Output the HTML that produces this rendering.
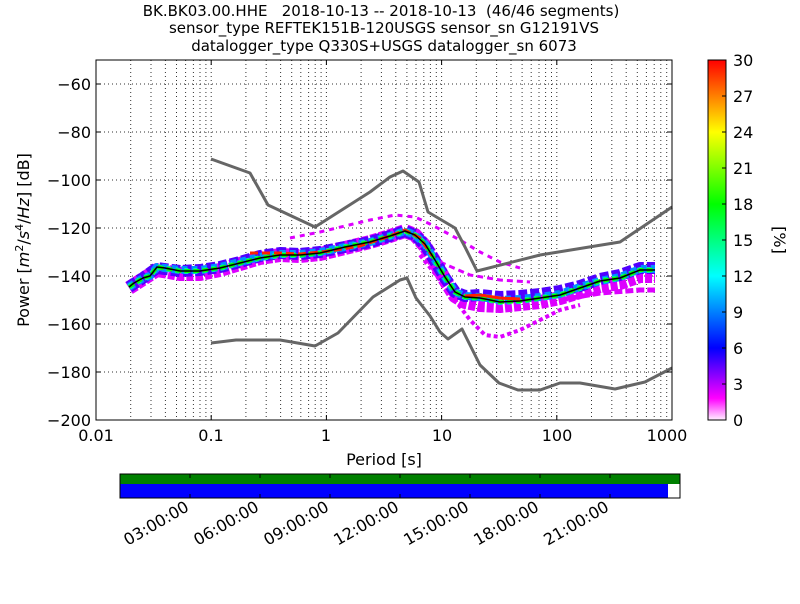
<!DOCTYPE html>
<html><head><meta charset="utf-8"><style>
body{margin:0;background:#fff;width:800px;height:600px;overflow:hidden;font-family:"DejaVu Sans","Liberation Sans",sans-serif}
text{white-space:pre}
</style></head><body>
<svg width="800" height="600" xmlns="http://www.w3.org/2000/svg" font-family="DejaVu Sans, Liberation Sans, sans-serif" xml:space="preserve">
<defs>
<linearGradient id="cb" x1="0" y1="1" x2="0" y2="0">
<stop offset="0" stop-color="#fff0ff"/><stop offset="0.06" stop-color="#ff00ff"/>
<stop offset="0.2" stop-color="#0000ff"/><stop offset="0.4" stop-color="#00ffff"/>
<stop offset="0.6" stop-color="#00ff00"/><stop offset="0.8" stop-color="#ffff00"/>
<stop offset="1" stop-color="#ff0000"/></linearGradient>
</defs>
<g font-size="15" text-anchor="middle" fill="#000">
<text x="381" y="16">BK.BK03.00.HHE   2018-10-13 -- 2018-10-13  (46/46 segments)</text>
<text x="384" y="33">sensor_type REFTEK151B-120USGS sensor_sn G12191VS</text>
<text x="384" y="51">datalogger_type Q330S+USGS datalogger_sn 6073</text>
</g>
<g stroke="#000" stroke-width="1" stroke-dasharray="1,3" opacity="0.8" fill="none">
<path d="M96 84H672M96 132H672M96 180H672M96 228H672M96 276H672M96 324H672M96 372H672"/>
<path d="M130.7 60V420M151 60V420M165.4 60V420M176.5 60V420M185.6 60V420M193.4 60V420M200 60V420M205.9 60V420M211.2 60V420
M245.9 60V420M266.2 60V420M280.6 60V420M291.7 60V420M300.8 60V420M308.6 60V420M315.2 60V420M321.1 60V420M326.4 60V420
M361.1 60V420M381.4 60V420M395.8 60V420M406.9 60V420M416 60V420M423.8 60V420M430.4 60V420M436.3 60V420M441.6 60V420
M476.3 60V420M496.6 60V420M511 60V420M522.1 60V420M531.2 60V420M539 60V420M545.6 60V420M551.5 60V420M556.8 60V420
M591.5 60V420M611.8 60V420M626.2 60V420M637.3 60V420M646.4 60V420M654.2 60V420M660.8 60V420M666.7 60V420"/>
</g>
<g fill="none" stroke-linejoin="round" stroke-linecap="butt">
<polyline stroke="#dd00ff" stroke-width="3" stroke-dasharray="5,5" points="290,238 320,232 345,226 370,220 395,215 415,217 430,224 445,232 460,240 480,252 500,262 520,268"/>
<polyline stroke="#dd00ff" stroke-width="4" stroke-dasharray="4,3" points="420,255 440,280 455,300 470,320 485,335 500,337 520,330 540,320 560,310 580,305"/>
<polyline stroke="#dd00ff" stroke-width="3" stroke-dasharray="6,4" points="440,262 470,275 500,280 530,282"/>
<polyline stroke="#dd00ff" stroke-width="5" stroke-dasharray="8,3" points="560,300 600,293 640,290 655,290"/>
<polyline stroke="#dd00ff" stroke-width="14" stroke-dasharray="7,2" points="129,288 143,279 157,270 180,274 200,274 220,270 240,264 260,258 280,255 300,256 320,254 345,248 370,242 390,236 405,231 415,235 425,246 435,262 445,280 455,296 465,302 480,305 500,306 520,304 540,302 560,298 580,292 600,286 620,283 640,276 655,276"/>
<polyline stroke="#5000ff" stroke-width="12" stroke-dasharray="9,3" points="129,287 143,278 157,268 180,271 200,270 220,267 240,262 260,256 280,253 300,254 320,252 345,247 370,242 390,236 405,231 415,235 425,245 435,261 445,278 455,292 465,296 480,295 500,297 520,296 540,294 560,291 580,286 600,279 620,275 640,268 655,268"/>
<polyline stroke="#0090ff" stroke-width="8" stroke-dasharray="6,4" points="129,287 143,278 150,276 157,267 180,270 200,270 220,267 240,262 260,257 280,254 300,254 320,252 345,247 370,242 390,236 405,231 415,235 425,244 435,260 445,277 455,292 465,296 480,297 500,300 520,299 540,297 560,294 580,287 600,281 620,277 640,269 655,269"/>
<polyline stroke="#00e0c0" stroke-width="6" stroke-dasharray="4,5" points="129,287 143,278 150,276 157,267 180,271 200,271 220,268 240,263 260,258 280,255 300,255 320,253 345,247 370,242 390,236 405,231 415,235 425,244 435,260 445,277 455,292 465,297 480,298 500,302 520,301 540,298 560,295 580,288 600,281 620,278 640,270 655,270"/>
<polyline stroke="#00ff00" stroke-width="4" stroke-dasharray="6,3" points="129,287 143,278 150,276 157,267 180,271 200,271 220,268 240,263 260,258 280,255 300,255 320,253 345,247 370,242 390,236 405,231 415,235 425,244 435,260 445,277 455,292 465,297 480,298 500,302 520,301 540,298 560,295 580,288 600,281 620,278 640,270 655,270"/>
<polyline stroke="#ff2000" stroke-width="3" stroke-dasharray="8,4" points="250,253 280,253 300,254 330,251 360,246 390,236 405,230 420,238 432,256"/>
<polyline stroke="#ff2000" stroke-width="3" points="465,296 480,295 500,298 520,299"/>
<polyline stroke="#000" stroke-width="1.5" points="129,287 134,283 143,278 150,276 157,267 165,268 180,271 200,271 220,268 240,263 260,258 280,255 300,255 320,253 345,247 370,242 390,236 405,231 415,235 425,244 435,260 445,277 455,292 465,297 480,298 500,302 520,301 540,298 560,295 580,288 600,281 620,278 640,270 655,270"/>
</g>
<g fill="none" stroke="#666" stroke-width="3" stroke-linejoin="round">
<polyline points="211,159 250,173 268,205 315,227 370,192 390,177 403,171 419,182 428,212 455,228 465,247 477,271 540,255 620,242 672,207"/>
<polyline points="211,343 236,340 280,340 315,346 338,333 373,297 400,280 407,278 416,298 430,316 440,332 448,339 462,329 480,365 499,383 518,390 540,390 560,383 580,383 615,389 645,382 672,368"/>
</g>
<rect x="96" y="60" width="576" height="360" fill="none" stroke="#000"/>
<g stroke="#000">
<path d="M96 84h5M96 132h5M96 180h5M96 228h5M96 276h5M96 324h5M96 372h5M672 84h-5M672 132h-5M672 180h-5M672 228h-5M672 276h-5M672 324h-5M672 372h-5"/>
<path d="M211.2 420v-5M326.4 420v-5M441.6 420v-5M556.8 420v-5M211.2 60v5M326.4 60v5M441.6 60v5M556.8 60v5"/>
</g>
<g font-size="16" text-anchor="end">
<text x="91" y="90">−60</text><text x="91" y="138">−80</text><text x="91" y="186">−100</text><text x="91" y="234">−120</text><text x="91" y="282">−140</text><text x="91" y="330">−160</text><text x="91" y="378">−180</text><text x="91" y="426">−200</text>
</g>
<g font-size="16" text-anchor="middle">
<text x="96" y="441">0.01</text><text x="211" y="441">0.1</text><text x="326" y="441">1</text><text x="442" y="441">10</text><text x="557" y="441">100</text><text x="667" y="441">1000</text>
<text x="384" y="465">Period [s]</text>
</g>
<text transform="translate(29,240) rotate(-90)" font-size="16" text-anchor="middle">Power [<tspan font-style="italic">m</tspan><tspan font-size="11" dy="-6">2</tspan><tspan dy="6">/</tspan><tspan font-style="italic">s</tspan><tspan font-size="11" dy="-6">4</tspan><tspan dy="6">/</tspan><tspan font-style="italic">Hz</tspan>] [dB]</text>
<rect x="708" y="60" width="18" height="360" fill="url(#cb)" stroke="#000"/>
<g stroke="#000"><path d="M726 384h-4M726 348h-4M726 312h-4M726 276h-4M726 240h-4M726 204h-4M726 168h-4M726 132h-4M726 96h-4"/></g>
<g font-size="16">
<text x="733" y="426">0</text><text x="733" y="390">3</text><text x="733" y="354">6</text><text x="733" y="318">9</text><text x="733" y="282">12</text><text x="733" y="246">15</text><text x="733" y="210">18</text><text x="733" y="174">21</text><text x="733" y="138">24</text><text x="733" y="102">27</text><text x="733" y="66">30</text>
</g>
<text transform="translate(774,240) rotate(90)" font-size="16" text-anchor="middle">[%]</text>
<rect x="120" y="474" width="560" height="10" fill="#008000"/>
<rect x="120" y="484" width="548" height="14" fill="#0000ff"/>
<rect x="120" y="474" width="560" height="24" fill="none" stroke="#000"/>
<g stroke="#000"><path d="M190 474v4M260 474v4M330 474v4M400 474v4M470 474v4M540 474v4M610 474v4M190 498v-4M260 498v-4M330 498v-4M400 498v-4M470 498v-4M540 498v-4M610 498v-4"/></g>
<g font-size="16" text-anchor="end">
<text transform="translate(190,510) rotate(-30)">03:00:00</text>
<text transform="translate(260,510) rotate(-30)">06:00:00</text>
<text transform="translate(330,510) rotate(-30)">09:00:00</text>
<text transform="translate(400,510) rotate(-30)">12:00:00</text>
<text transform="translate(470,510) rotate(-30)">15:00:00</text>
<text transform="translate(540,510) rotate(-30)">18:00:00</text>
<text transform="translate(610,510) rotate(-30)">21:00:00</text>
</g>
</svg>
</body></html>
